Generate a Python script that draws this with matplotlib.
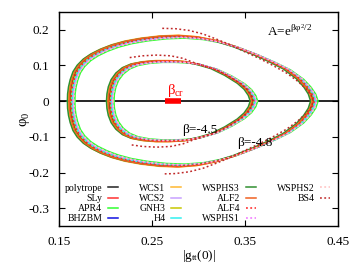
import numpy as np
import matplotlib
matplotlib.use("Agg")
import matplotlib.pyplot as plt
from matplotlib.lines import Line2D

plt.rcParams['font.family'] = ['Liberation Serif', 'DejaVu Serif']
plt.rcParams['mathtext.fontset'] = 'custom'
plt.rcParams['mathtext.rm'] = 'Liberation Serif'
plt.rcParams['mathtext.it'] = 'Liberation Serif'
plt.rcParams['mathtext.bf'] = 'Liberation Serif'

# upper half of the loops (g_tt, phi0), left end -> right end
g_b48 = [0.1620, 0.1622, 0.1632, 0.1650, 0.1680, 0.1725, 0.1790, 0.1870, 0.1970, 0.2090,
         0.2230, 0.2400, 0.2600, 0.2800, 0.3000, 0.3200, 0.3400, 0.3600, 0.3780, 0.3940,
         0.4080, 0.4160, 0.4210, 0.4235]
p_b48 = [0.000, 0.020, 0.040, 0.060, 0.082, 0.100, 0.117, 0.131, 0.144, 0.156,
         0.166, 0.174, 0.180, 0.182, 0.178, 0.168, 0.152, 0.132, 0.111, 0.090,
         0.063, 0.040, 0.020, 0.000]

g_b45 = [0.2040, 0.2045, 0.2060, 0.2090, 0.2140, 0.2210, 0.2300, 0.2420, 0.2560, 0.2700,
         0.2850, 0.3000, 0.3160, 0.3310, 0.3446, 0.3520, 0.3565, 0.3586]
p_b45 = [0.000, 0.020, 0.040, 0.060, 0.078, 0.093, 0.103, 0.109, 0.112, 0.112,
         0.110, 0.103, 0.091, 0.072, 0.050, 0.033, 0.016, 0.000]

# BS4 only covers the right part of each loop
g_bs4_48 = [0.261, 0.275, 0.290, 0.305, 0.320, 0.335, 0.350, 0.365, 0.380, 0.395,
            0.407, 0.416, 0.4215, 0.4235]
p_bs4_48 = [0.204, 0.203, 0.198, 0.188, 0.173, 0.157, 0.138, 0.120, 0.100, 0.078,
            0.055, 0.033, 0.015, 0.000]
g_bs4_45 = [0.226, 0.240, 0.255, 0.270, 0.283, 0.295, 0.308, 0.320, 0.331, 0.3446,
            0.352, 0.3565, 0.3586]
p_bs4_45 = [0.122, 0.127, 0.129, 0.127, 0.120, 0.108, 0.097, 0.087, 0.072, 0.050,
            0.033, 0.016, 0.000]

eos = ['polytrope', 'SLy', 'APR4', 'BHZBM', 'WCS1', 'WCS2', 'GNH3', 'H4',
       'WSPHS3', 'ALF2', 'ALF4', 'WSPHS1', 'WSPHS2', 'BS4']
colors = ['#222222', '#ff3030', '#30ff30', '#1010e0', '#ffb830', '#c8a0ff', '#c8c800', '#30f0f0',
          '#309030', '#f06020', '#ff2020', '#f070ff', '#ffc0c0', '#c02828']
dotted = [False] * 10 + [True] * 4
# shift in g_tt and scale in phi0 of each EOS against the band
dg = [0.000, 0.002, 0.005, 0.002, -0.002, 0.003, 0.001, 0.002, -0.003, -0.001, 0.001, 0.003, 0.004, 0.0]
sp = [1.00, 0.99, 0.97, 0.99, 1.015, 0.985, 1.0, 0.995, 1.005, 1.01, 0.995, 0.985, 0.98, 1.0]

beta_cr = [0.264, 0.281]


def loop(g, p):
    g = np.array(g)
    p = np.array(p)
    return np.concatenate([g, g[::-1]]), np.concatenate([p, -p[::-1]])


fig = plt.figure(figsize=(3.6, 2.77), dpi=100)
ax = fig.add_axes([0.164, 0.184, 0.775, 0.773])

ax.axhline(0, color='k', lw=1.2, zorder=1)

handles = []
for i in range(len(eos)):
    ls = (0, (1.2, 1.6)) if dotted[i] else '-'
    if eos[i] == 'BS4':
        pairs = [(g_bs4_48, p_bs4_48), (g_bs4_45, p_bs4_45)]
    else:
        pairs = [(g_b48, p_b48), (g_b45, p_b45)]
    for k, (g, p) in enumerate(pairs):
        x, y = loop(g, p)
        if eos[i] != 'BS4':
            x = x + dg[i]
            y = y * sp[i]
        ln, = ax.plot(x, y, color=colors[i], ls=ls, lw=1.1, zorder=2)
        if k == 0:
            handles.append(ln)

ax.plot(beta_cr, [0, 0], color='red', lw=4, solid_capstyle='butt', zorder=3)
ax.text(0.2665, 0.006, r'$\beta_{cr}$', color='red', fontsize=10.5, ha='left', va='bottom')

ax.text(0.374, 0.197, r'A=e$^{\beta\varphi^2/2}$', fontsize=9.5, ha='left', va='center')
ax.text(0.282, -0.080, 'β=-4.5', fontsize=9.5, ha='left', va='center')
ax.text(0.341, -0.118, 'β=-4.8', fontsize=9.5, ha='left', va='center')

ax.set_xlim(0.15, 0.45)
ax.set_ylim(-0.35, 0.25)
ax.set_xticks([0.15, 0.25, 0.35, 0.45])
ax.set_xticklabels(['0.15', '0.25', '0.35', '0.45'])
ax.set_yticks([-0.3, -0.2, -0.1, 0, 0.1, 0.2])
ax.set_yticklabels(['-0.3', '-0.2', '-0.1', '0', '0.1', '0.2'])
ax.tick_params(direction='in', top=True, right=True, length=4, width=0.8, labelsize=9.5, pad=7)
for s in ax.spines.values():
    s.set_linewidth(1.0)

ax.set_xlabel(r'|g$_{tt}$(0)|', fontsize=9.5, labelpad=0)
ax.set_ylabel(r'$\varphi_0$', fontsize=10.5, labelpad=-3)

# two blank slots so the columns fill 4, 4, 4, 2 like the original
blank = Line2D([], [], alpha=0)
leg_h = handles + [blank, blank]
leg_l = eos + [' ', ' ']
ax.legend(leg_h, leg_l, ncol=4, markerfirst=False, frameon=False, fontsize=7, loc='upper left',
          bbox_to_anchor=(0.02, 0.197), handlelength=1.0, handletextpad=0.6,
          columnspacing=2.2, labelspacing=0.12, borderpad=0, borderaxespad=0)

fig.savefig('out.png', dpi=100)
